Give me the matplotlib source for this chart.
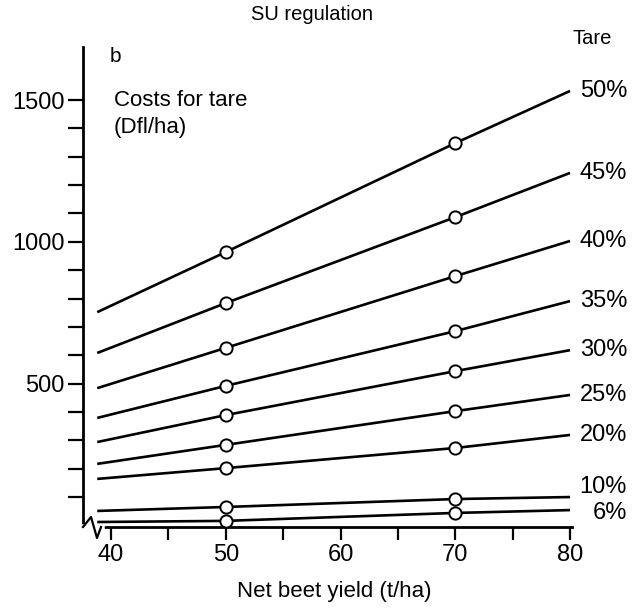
import matplotlib
matplotlib.use("Agg")
import matplotlib.pyplot as plt
from matplotlib.lines import Line2D
from matplotlib.ticker import FixedLocator

plt.rcParams['font.family'] = ['Liberation Sans', 'DejaVu Sans']

# ---- data ----
yield_t = [38.8, 50, 70, 80]
tare_labels = ['50%', '45%', '40%', '35%', '30%', '25%', '20%', '10%', '6%']
cost_50 = [752, 964, 1348, 1532]
cost_45 = [608, 784, 1087, 1243]
cost_40 = [484, 626, 879, 1003]
cost_35 = [379, 492, 685, 791]
cost_30 = [294, 389, 544, 618]
cost_25 = [217, 284, 403, 460]
cost_20 = [164, 202, 273, 319]
cost_10 = [51, 65, 93, 100]
cost_6 = [12, 16, 44, 54]
series = [cost_50, cost_45, cost_40, cost_35, cost_30, cost_25, cost_20, cost_10, cost_6]
marker_idx = [1, 2]          # points at 50 and 70 t/ha carry circles
label_dy = [0, 0, 0, 0, 0, 0, 0, 10, -3]   # label nudges in pixels

W, H = 634, 609
fig = plt.figure(figsize=(W / 100, H / 100), dpi=100)

def fx(x):
    return x / W

def fy(y):
    return 1 - y / H

ax = fig.add_axes([fx(83), fy(527), (572 - 83) / W, (527 - 47) / H])
ax.set_xlim(37.56, 80.17)
ax.set_ylim(-5.6, 1687)

for vals in series:
    ax.plot(yield_t, vals, color='black', lw=1.9, solid_capstyle='butt', zorder=2)
    ax.plot([yield_t[i] for i in marker_idx], [vals[i] for i in marker_idx],
            linestyle='none', marker='o', ms=8.8, mfc='white', mec='black',
            mew=1.4, zorder=3)

for lab, vals, dy in zip(tare_labels, series, label_dy):
    ax.annotate(lab, xy=(yield_t[-1], vals[-1]), xytext=(57 * 0.72, dy * 0.72),
                textcoords='offset points', ha='right', va='center',
                fontsize=17, annotation_clip=False)

for s in ['top', 'right']:
    ax.spines[s].set_visible(False)
for s in ['left', 'bottom']:
    ax.spines[s].set_linewidth(2)

ax.xaxis.set_major_locator(FixedLocator([40, 50, 60, 70, 80]))
ax.xaxis.set_minor_locator(FixedLocator([45, 55, 65, 75]))
ax.yaxis.set_major_locator(FixedLocator([500, 1000, 1500]))
ax.yaxis.set_minor_locator(FixedLocator([100, 200, 300, 400, 600, 700, 800, 900,
                                          1100, 1200, 1300, 1400]))
ax.tick_params(axis='x', which='both', direction='out', length=9, width=1.6,
               pad=3, labelsize=17)
ax.tick_params(axis='y', which='both', direction='out', length=11, width=1.6,
               pad=2, labelsize=17)

# axis break symbol at origin
zx = [83, 91, 97, 101]
zy = [527, 517, 538, 527]
fig.add_artist(Line2D([fx(83), fx(102)], [fy(527), fy(527)], color='white', lw=4,
                      transform=fig.transFigure))
fig.add_artist(Line2D([fx(x) for x in zx], [fy(y) for y in zy], color='black',
                      lw=1.6, transform=fig.transFigure))

fig.text(fx(312), fy(14), 'SU regulation', ha='center', va='center', fontsize=14.5)
fig.text(fx(110), fy(57), 'b', ha='left', va='center', fontsize=15)
fig.text(fx(114), fy(101), 'Costs for tare', ha='left', va='center', fontsize=16)
fig.text(fx(114), fy(127), '(Dfl/ha)', ha='left', va='center', fontsize=16)
fig.text(fx(612), fy(38), 'Tare', ha='right', va='center', fontsize=14.5)
fig.text(fx(334), fy(592), 'Net beet yield (t/ha)', ha='center', va='center',
         fontsize=16)

fig.savefig('out.png', dpi=100)
